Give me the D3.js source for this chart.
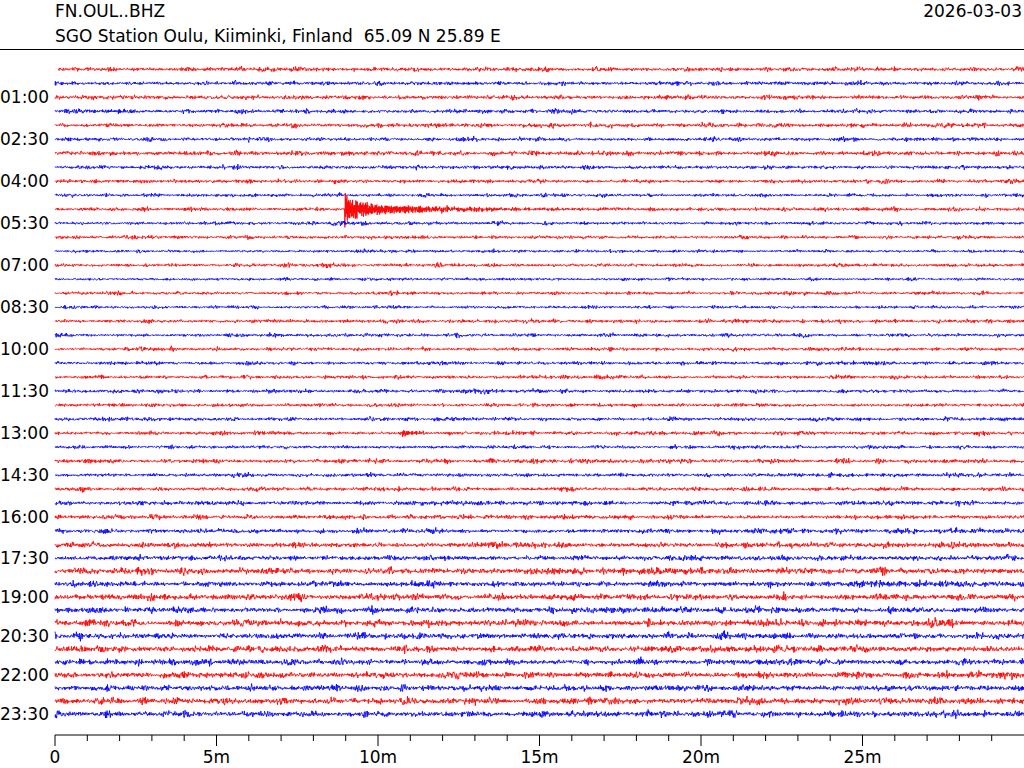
<!DOCTYPE html>
<html>
<head>
<meta charset="utf-8">
<script src="https://cdn.jsdelivr.net/npm/d3@7"></script>
<style>
  html, body { margin: 0; padding: 0; background: #fff; }
  svg { display: block; font-family: "DejaVu Sans", sans-serif; }
  text { white-space: pre; }
</style>
</head>
<body>
<svg id="chart" width="1024" height="768"></svg>
<script>
// ---------------- data ----------------
const stationCode = "FN.OUL..BHZ";
const stationInfo = "SGO Station Oulu, Kiiminki, Finland  65.09 N 25.89 E";
const plotDate = "2026-03-03";

// 48 half-hour rows (00:00 ... 23:30); colours alternate red / blue
const traceCount = 48;
const traceColors = ["#ff0000", "#0000ff"];

// time tick labels on the left, at rows 2,5,8,...,47
const rowTickIndex = [2, 5, 8, 11, 14, 17, 20, 23, 26, 29, 32, 35, 38, 41, 44, 47];
const rowTickLabels = ["01:00", "02:30", "04:00", "05:30", "07:00", "08:30", "10:00", "11:30",
                       "13:00", "14:30", "16:00", "17:30", "19:00", "20:30", "22:00", "23:30"];

// x-axis (minutes within each row)
const minuteTicks = [0, 5, 10, 15, 20, 25];
const minuteTickLabels = ["0", "5m", "10m", "15m", "20m", "25m"];
const minorMinuteTicks = d3.range(0, 30, 1).filter(m => m % 5 !== 0);

// background noise level of each row (typical half-amplitude, arbitrary counts)
const noiseLevel = [
  1.4, 1.3, 1.4, 1.3, 1.4, 1.2, 1.5, 1.2,   // 00:00-03:30
  1.2, 1.1, 1.2, 1.1, 1.1, 1.0, 1.2, 1.0,   // 04:00-07:30
  1.1, 1.0, 1.2, 1.1, 1.2, 1.2, 1.2, 1.2,   // 08:00-11:30
  1.2, 1.2, 1.2, 1.2, 1.3, 1.3, 1.3, 1.4,   // 12:00-15:30
  1.4, 1.5, 1.8, 1.7, 2.1, 1.8, 2.1, 1.9,   // 16:00-19:30
  2.1, 1.9, 2.1, 1.9, 2.0, 1.9, 2.1, 1.9    // 20:00-23:30
];

// first sample time (minutes) of each row; first row starts slightly late
const rowStart = [0.1].concat(d3.range(47).map(() => 0));

// transient signals: row, onset minute, peak amplitude, decay (minutes)
const eventRow   = [10,   10,   10,   26,    32,   3,    1,    1,    20,   21,   23,   44];
const eventTime  = [8.97, 8.97, 8.97, 10.75, 16.0, 1.95, 2.15, 13.0, 18.6, 24.7, 21.1, 6.2];
const eventAmp   = [10.0, 8.0,  4.5,  4.5,   3.8,  2.4,  2.0,  1.8,  1.8,  2.0,  1.8,  2.4];
const eventDecay = [0.04, 0.75, 3.5,  0.2,   0.05, 0.12, 0.1,  0.1,  0.08, 0.12, 0.1,  0.08];

// ---------------- layout ----------------
const svg = d3.select("#chart");
const FS = 17;
const x = d3.scaleLinear().domain([0, 30]).range([55, 1024]);
// row baselines (spacing tightens slightly in the lower part, as in the reference)
const y = d3.scaleLinear().domain([0, 34, 47]).range([69.3, 545, 714]);
const amp = d3.scaleLinear().domain([-1, 1]).range([1, -1]); // counts -> pixel offset

// header
svg.append("text").attr("x", 55).attr("y", 17).attr("font-size", FS).text(stationCode);
svg.append("text").attr("x", 55).attr("y", 41.5).attr("font-size", FS).text(stationInfo);
svg.append("text").attr("x", 1022).attr("y", 17).attr("font-size", FS)
   .attr("text-anchor", "end").text(plotDate);
svg.append("line").attr("x1", 0).attr("x2", 1024).attr("y1", 49.5).attr("y2", 49.5)
   .attr("stroke", "#000").attr("stroke-width", 1);

// fixed-seed texture generator for the unreadable high-frequency wiggle
function seeded(a) {
  return function () {
    a |= 0; a = a + 0x6D2B79F5 | 0;
    let t = Math.imul(a ^ a >>> 15, 1 | a);
    t = t + Math.imul(t ^ t >>> 7, 61 | t) ^ t;
    return ((t ^ t >>> 14) >>> 0) / 4294967296;
  };
}

const dt = 0.0125;     // minutes per drawn sample
const knotDt = 0.2;    // minutes between envelope knots

const line = d3.line().x(d => x(d.t)).y(d => d.y);

for (let i = 0; i < traceCount; i++) {
  const rnd = seeded(7919 * (i + 1));
  const nKnots = Math.ceil(30 / knotDt) + 2;
  const knots = d3.range(nKnots).map(() => { const k = rnd(); return 0.7 + 1.0 * k * k * k; });
  const evs = eventRow.map((r, j) => j).filter(j => eventRow[j] === i);
  const base = y(i);
  const pts = [];
  let sign = 1;
  for (let t = rowStart[i]; t <= 30.0001; t += dt) {
    const kf = t / knotDt, k0 = Math.floor(kf), fr = kf - k0;
    const env = knots[k0] * (1 - fr) + knots[k0 + 1] * fr;
    let v = noiseLevel[i] * env * (rnd() + rnd() + rnd() - 1.5) * 1.3;
    let evEnv = 0;
    evs.forEach(j => {
      const tau = t - eventTime[j];
      if (tau >= 0) evEnv += eventAmp[j] * Math.exp(-tau / eventDecay[j]);
    });
    if (evEnv > 0) { sign = -sign; v += sign * evEnv * (0.3 + 0.7 * rnd()); }
    pts.push({ t: t, y: base + amp(v) });
  }
  svg.append("path")
    .attr("d", line(pts))
    .attr("fill", "none")
    .attr("stroke", traceColors[i % 2])
    .attr("stroke-width", 0.85);
}

// left row labels
svg.append("g").selectAll("text").data(rowTickIndex).join("text")
  .attr("x", 49).attr("y", d => y(d)).attr("dy", "0.36em")
  .attr("text-anchor", "end").attr("font-size", FS)
  .text((d, k) => rowTickLabels[k]);

// bottom axis
const axisY = 735;
svg.append("line").attr("x1", x(0)).attr("x2", x(30)).attr("y1", axisY).attr("y2", axisY)
   .attr("stroke", "#000").attr("stroke-width", 1);
svg.append("g").selectAll("line").data(minuteTicks).join("line")
  .attr("x1", d => x(d)).attr("x2", d => x(d)).attr("y1", axisY).attr("y2", axisY + 11)
  .attr("stroke", "#000").attr("stroke-width", 1);
svg.append("g").selectAll("line").data(minorMinuteTicks).join("line")
  .attr("x1", d => x(d)).attr("x2", d => x(d)).attr("y1", axisY).attr("y2", axisY + 6)
  .attr("stroke", "#000").attr("stroke-width", 1);
svg.append("g").selectAll("text").data(minuteTicks).join("text")
  .attr("x", d => x(d)).attr("y", 763).attr("text-anchor", "middle").attr("font-size", FS)
  .text((d, k) => minuteTickLabels[k]);
</script>
</body>
</html>
